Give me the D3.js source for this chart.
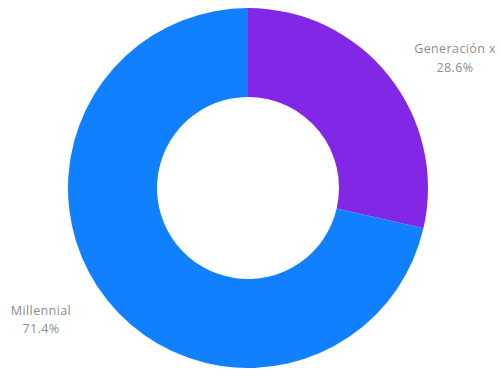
<!DOCTYPE html>
<html>
<head>
<meta charset="utf-8">
<script src="https://cdn.jsdelivr.net/npm/d3@7/dist/d3.min.js"></script>
<style>
  html, body { margin: 0; padding: 0; background: #fff; }
  svg { display: block; }
</style>
</head>
<body>
<svg id="chart" width="500" height="369"></svg>
<script>
// Share of respondents by generation
const categories = ["Generación x", "Millennial"];
const values = [28.6, 71.4];
const valueLabels = ["28.6%", "71.4%"];
const colors = ["#8227e6", "#1180fe"];

const width = 500, height = 369;
const cx = 248, cy = 188;
const outerR = 180, innerR = 91;

const svg = d3.select("#chart");
const g = svg.append("g").attr("transform", `translate(${cx},${cy})`);

const data = categories.map((c, i) => ({ name: c, value: values[i], label: valueLabels[i], color: colors[i] }));

const pie = d3.pie().value(d => d.value).sort(null);
const arc = d3.arc().innerRadius(innerR).outerRadius(outerR);
const arcs = pie(data);

g.selectAll("path.slice")
  .data(arcs)
  .join("path")
  .attr("class", "slice")
  .attr("d", arc)
  .attr("fill", d => d.data.color);

// Outside labels, placed along each slice's mid-angle (wider horizontally)
const labelRx = outerR * 1.155;
const labelRy = outerR * 0.73;
const labels = g.selectAll("text.lbl")
  .data(arcs)
  .join("text")
  .attr("class", "lbl")
  .attr("text-anchor", "middle")
  .attr("font-family", "'Open Sans', 'Noto Sans', sans-serif")
  .attr("font-size", 12.5)
  .attr("letter-spacing", 0.4)
  .attr("fill", "#8c8c8c")
  .attr("transform", d => {
    const mid = (d.startAngle + d.endAngle) / 2;
    const x = Math.sin(mid) * outerR * 1.47;
    const y = -Math.cos(mid) * outerR * 1.165 - 1.5;
    return `translate(${x},${y})`;
  });

labels.append("tspan").attr("x", 0).attr("dy", "-0.2em").text(d => d.data.name);
labels.append("tspan").attr("x", 0).attr("dy", "1.45em").text(d => d.data.label);
</script>
</body>
</html>
